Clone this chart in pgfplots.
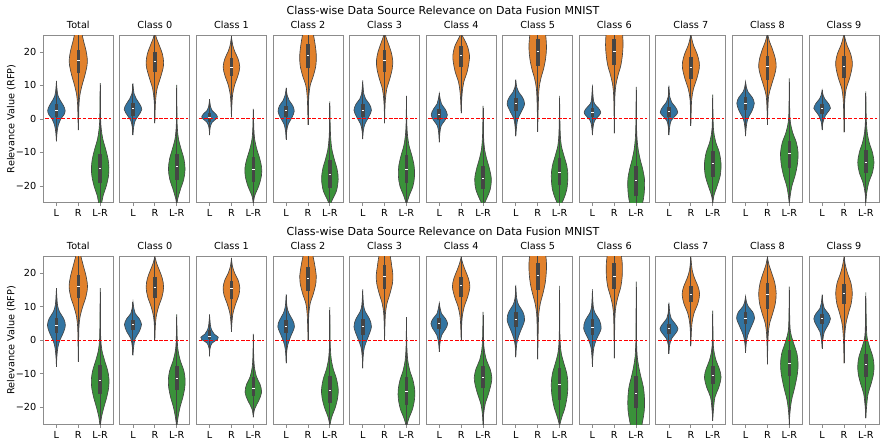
\documentclass[border=0pt]{standalone}
\usepackage{pgfplots}
\pgfplotsset{compat=1.18}
\usepackage{fontspec}
\setmainfont{DejaVu Sans}

\definecolor{cL}{HTML}{3274A1}
\definecolor{cR}{HTML}{E1812C}
\definecolor{cD}{HTML}{3A923A}
\definecolor{vedge}{HTML}{454545}
\definecolor{frame}{HTML}{8C8C8C}

\newcommand\lbl{\fontsize{9.7}{11}\selectfont}

% one violin: #1 position, #2 colour, #3 profile (value/half-width),
% #4 lower whisker, #5 Q1, #6 median, #7 Q3, #8 upper whisker
\newcommand\vio[8]{%
  \gdef\vR{}\gdef\vL{}%
  \foreach \yy/\ww in {#3}{%
    \pgfmathsetmacro\xa{#1+\ww}%
    \pgfmathsetmacro\xb{#1-\ww}%
    \xdef\vR{\vR(\xa,\yy)}%
    \xdef\vL{(\xb,\yy)\vL}%
  }%
  \pgfmathsetmacro\ma{#1-0.055}%
  \pgfmathsetmacro\mb{#1+0.055}%
  \edef\tmp{%
    \noexpand\addplot[fill=#2, draw=vedge, line width=0.65pt, smooth, tension=0.55] coordinates {\vR\vL};
    \noexpand\addplot[vedge, line width=1pt] coordinates {(#1,#4) (#1,#8)};
    \noexpand\addplot[vedge, line width=3.6pt] coordinates {(#1,#5) (#1,#7)};
    \noexpand\addplot[white, line width=1pt] coordinates {(\ma,#6) (\mb,#6)};
  }%
  \tmp
}
\newcommand\zeroline{\addplot[red, line width=1pt, dash pattern=on 3.7pt off 1.6pt] coordinates {(-0.5,0) (2.5,0)};}

\pgfplotsset{
  panel/.style={
    scale only axis, width=70pt, height=167.5pt, anchor=south west,
    xmin=-0.6, xmax=2.6, ymin=-25, ymax=25,
    xtick={0,1,2}, xticklabels={L,R,L-R}, xtick pos=left,
    ytick=\empty,
    tick align=outside, major tick length=3.5pt,
    every tick/.style={frame, line width=0.8pt},
    axis line style={frame, line width=0.9pt},
    ticklabel style={font=\lbl},
    title style={font=\lbl, yshift=-2.5pt},
  },
  first/.style={
    ytick={-20,-10,0,10,20}, yticklabels={−20,−10,0,10,20}, ytick pos=left,
    ylabel={Relevance Value (RFP)},
    every axis y label/.style={at={(axis description cs:-0.455,0.5)}, rotate=90, anchor=center, font=\lbl},
  },
}

\begin{document}
\begin{tikzpicture}
\path[use as bounding box] (0,0) rectangle (880pt,439pt);

\node[font=\fontsize{11}{13}\selectfont] at (443pt,428.5pt) {Class-wise Data Source Relevance on Data Fusion MNIST};
\node[font=\fontsize{11}{13}\selectfont] at (443pt,207.5pt) {Class-wise Data Source Relevance on Data Fusion MNIST};

% ---------------- first run ----------------
\begin{axis}[panel, first, at={(43.3pt,236.3pt)}, title={Total}]
\vio{0}{cL}{-6.7/0,-4/0.03,-2/0.08,0/0.2,1.2/0.34,2.5/0.40,4/0.32,5.5/0.18,7/0.07,9/0.025,11.1/0}{-6.7}{0.5}{2.4}{4.4}{11.1}
\vio{1}{cR}{-3.3/0,0/0.015,4/0.03,7/0.07,10/0.17,13/0.30,16/0.40,18/0.41,20.5/0.35,23/0.25,25/0.18,27/0.1,29/0.02,30/0}{-3.3}{13.6}{17.3}{20.7}{30}
\vio{2}{cD}{-29/0,-26/0.05,-23/0.13,-20/0.28,-17/0.38,-14.5/0.40,-12/0.36,-9/0.25,-6/0.12,-3/0.05,0/0.02,5/0.012,10.1/0}{-29}{-19.1}{-14.9}{-10.5}{10.1}
\zeroline
\end{axis}

\begin{axis}[panel, at={(119.87pt,236.3pt)}, title={Class 0}]
\vio{0}{cL}{-4.8/0,-2.5/0.03,-0.5/0.1,1/0.25,2.8/0.40,4.3/0.32,6/0.15,7.5/0.05,10.3/0}{-4.8}{1.0}{3.0}{4.7}{10.3}
\vio{1}{cR}{-1.3/0,3/0.015,6/0.04,9/0.1,12/0.24,15/0.37,17/0.40,19.5/0.34,22/0.2,24/0.08,25.8/0}{-1.3}{14.1}{17.0}{20.0}{25.8}
\vio{2}{cD}{-26/0,-24/0.04,-21/0.17,-18/0.32,-15/0.38,-12/0.33,-9/0.2,-6/0.08,-3/0.03,0/0.015,9.1/0}{-26}{-18.2}{-14.2}{-10.4}{9.1}
\zeroline
\end{axis}

\begin{axis}[panel, at={(196.44pt,236.3pt)}, title={Class 1}]
\vio{0}{cL}{-4.8/0,-2.5/0.03,-1/0.12,0/0.3,0.6/0.36,1.5/0.28,2.5/0.12,3.5/0.05,5.7/0}{-4.8}{-0.8}{0.5}{1.9}{5.7}
\vio{1}{cR}{0.5/0,4/0.02,7/0.05,10/0.14,13/0.3,15.5/0.38,18/0.3,20/0.16,22/0.06,24.5/0}{0.5}{12.8}{15.3}{18.1}{24.5}
\vio{2}{cD}{-25.5/0,-23/0.06,-20/0.25,-17/0.37,-14.5/0.38,-12/0.3,-9/0.16,-6/0.06,-3/0.025,0/0.012,2.7/0}{-25.5}{-18.7}{-15}{-11.4}{2.7}
\zeroline
\end{axis}

\begin{axis}[panel, at={(273.01pt,236.3pt)}, title={Class 2}]
\vio{0}{cL}{-6.2/0,-3.5/0.03,-1.5/0.1,0.5/0.27,2.3/0.37,4/0.3,5.5/0.14,7/0.05,9.1/0}{-6.2}{0.5}{2.4}{4}{9.1}
\vio{1}{cR}{-1.8/0,3/0.015,7/0.04,10/0.1,13/0.25,16/0.36,19/0.38,22/0.33,25/0.25,27/0.15,29/0}{-1.8}{15.2}{19}{22.5}{29}
\vio{2}{cD}{-26/0,-24/0.12,-21.5/0.3,-18/0.38,-15/0.33,-12/0.2,-9/0.09,-6/0.04,-3/0.02,0/0.01,4.7/0}{-26}{-20.6}{-16.7}{-12.2}{4.7}
\zeroline
\end{axis}

\begin{axis}[panel, at={(349.58pt,236.3pt)}, title={Class 3}]
\vio{0}{cL}{-6/0,-3.5/0.03,-1.5/0.1,0.5/0.27,2.6/0.40,4.5/0.3,6/0.13,7.5/0.05,11.1/0}{-6}{0.7}{2.5}{4.5}{11.1}
\vio{1}{cR}{-1.3/0,3/0.015,6/0.04,9/0.1,12/0.24,15/0.35,17.5/0.37,20/0.3,22.5/0.17,24.5/0.06,26/0}{-1.3}{14.1}{17.3}{20.5}{26}
\vio{2}{cD}{-25.5/0,-23/0.12,-20/0.3,-17/0.37,-14/0.35,-11/0.25,-8/0.12,-5/0.05,-2/0.02,0/0.012,6.2/0}{-25.5}{-19.1}{-15.2}{-10.7}{6.2}
\zeroline
\end{axis}

\begin{axis}[panel, at={(426.15pt,236.3pt)}, title={Class 4}]
\vio{0}{cL}{-7/0,-4/0.03,-2/0.09,-0.5/0.25,1.2/0.37,3/0.26,4.5/0.1,6/0.04,7.6/0}{-7}{-0.3}{1.2}{2.9}{7.6}
\vio{1}{cR}{1.7/0,5/0.02,8/0.05,11/0.12,14/0.27,17/0.36,19/0.38,21.5/0.3,23.5/0.16,25.5/0}{1.7}{15.6}{19}{21.7}{25.5}
\vio{2}{cD}{-26/0,-24/0.15,-21/0.33,-18/0.38,-15/0.3,-12/0.17,-9/0.07,-6/0.03,-3/0.015,3.2/0}{-26}{-20.9}{-17.7}{-14}{3.2}
\zeroline
\end{axis}

\begin{axis}[panel, at={(502.72pt,236.3pt)}, title={Class 5}]
\vio{0}{cL}{-5.2/0,-2.5/0.03,0/0.09,2/0.24,4.5/0.40,6.5/0.3,8/0.13,9.5/0.04,11.6/0}{-5.2}{2.4}{4.5}{6.3}{11.6}
\vio{1}{cR}{-3.8/0,1/0.015,5/0.03,9/0.06,12/0.14,15/0.27,18/0.36,21/0.40,24/0.38,27/0.3,30/0}{-3.8}{15.8}{20.2}{24}{30}
\vio{2}{cD}{-26.5/0,-24/0.18,-21/0.33,-17/0.38,-14/0.33,-11/0.2,-8/0.08,-5/0.035,-2/0.02,0/0.012,6.2/0}{-26.5}{-19.6}{-16}{-11.7}{6.2}
\zeroline
\end{axis}

\begin{axis}[panel, at={(579.29pt,236.3pt)}, title={Class 6}]
\vio{0}{cL}{-4.8/0,-2.5/0.03,-0.5/0.1,1/0.3,2/0.38,3.2/0.28,4.5/0.1,6/0.04,9.8/0}{-4.8}{0.7}{1.9}{3.2}{9.8}
\vio{1}{cR}{-4.3/0,3/0.015,7/0.03,10/0.07,13/0.17,16/0.3,19/0.37,22/0.40,25/0.38,28/0.3,31/0}{-4.3}{16.1}{20.2}{24}{31}
\vio{2}{cD}{-30/0,-27/0.2,-24/0.33,-21/0.38,-18/0.38,-15/0.3,-12/0.18,-9/0.09,-6/0.04,-3/0.02,0/0.012,8.6/0}{-30}{-23.1}{-18.5}{-14}{8.6}
\zeroline
\end{axis}

\begin{axis}[panel, at={(655.86pt,236.3pt)}, title={Class 7}]
\vio{0}{cL}{-4.8/0,-2.5/0.03,-0.5/0.1,1/0.3,2/0.40,3.5/0.3,5/0.12,6.5/0.04,9.6/0}{-4.8}{0.7}{2.1}{3.7}{9.6}
\vio{1}{cR}{-2.1/0,2/0.015,6/0.04,9/0.12,12/0.27,15/0.38,17/0.38,19.5/0.28,22/0.12,24/0.04,25.5/0}{-2.1}{11.8}{15.4}{18.6}{25.5}
\vio{2}{cD}{-25.5/0,-23/0.05,-20/0.2,-17/0.34,-13.5/0.38,-10/0.3,-7/0.14,-4/0.05,-1/0.02,6.4/0}{-25.5}{-17.2}{-13.4}{-9.7}{6.4}
\zeroline
\end{axis}

\begin{axis}[panel, at={(732.43pt,236.3pt)}, title={Class 8}]
\vio{0}{cL}{-5.1/0,-2.5/0.03,0/0.1,2.5/0.3,4.7/0.40,6.5/0.3,8/0.12,9.5/0.04,11.1/0}{-5.1}{2.7}{4.7}{6.6}{11.1}
\vio{1}{cR}{-1.8/0,3/0.02,7/0.06,10/0.18,13/0.32,15.5/0.40,18/0.36,21/0.22,23/0.1,25.5/0}{-1.8}{11.6}{15.6}{18.8}{25.5}
\vio{2}{cD}{-25.5/0,-23/0.04,-20/0.12,-17/0.26,-13.5/0.37,-10/0.40,-7/0.32,-4/0.15,-1/0.05,2/0.02,11.1/0}{-25.5}{-14.7}{-10.4}{-6.7}{11.1}
\zeroline
\end{axis}

\begin{axis}[panel, at={(809pt,236.3pt)}, title={Class 9}]
\vio{0}{cL}{-3.3/0,-1/0.04,1/0.15,2.5/0.32,3.2/0.38,4.5/0.3,6/0.12,7/0.05,8.6/0}{-3.3}{1.4}{3}{4.5}{8.6}
\vio{1}{cR}{-4/0,2/0.015,6/0.04,9/0.1,12/0.25,15/0.36,17/0.38,19.5/0.3,22/0.14,24/0.05,25.5/0}{-4}{12.3}{15.7}{18.8}{25.5}
\vio{2}{cD}{-25/0,-22/0.04,-19/0.13,-16/0.3,-13/0.37,-10/0.3,-7/0.15,-4/0.06,-1/0.025,2/0.012,7.6/0}{-25}{-16}{-12.9}{-9.4}{7.6}
\zeroline
\end{axis}

% ---------------- second run ----------------
\begin{axis}[panel, first, at={(43.3pt,15pt)}, title={Total}]
\vio{0}{cL}{-7.9/0,-5/0.02,-2/0.07,0/0.16,2.5/0.33,4.5/0.41,6.5/0.33,8.5/0.14,10.5/0.05,13/0.02,15.3/0}{-7.9}{2.2}{4.5}{6.7}{15.3}
\vio{1}{cR}{-6.4/0,0/0.015,4/0.03,7/0.08,10/0.2,13/0.35,16/0.42,19/0.36,22/0.24,25/0.12,28/0}{-6.4}{12.7}{16}{19.6}{28}
\vio{2}{cD}{-26/0,-23/0.06,-20/0.17,-17/0.3,-14/0.39,-11.5/0.40,-9/0.34,-6/0.2,-3/0.08,0/0.03,4/0.015,14.4/0}{-26}{-16}{-11.9}{-7.5}{14.4}
\zeroline
\end{axis}

\begin{axis}[panel, at={(119.87pt,15pt)}, title={Class 0}]
\vio{0}{cL}{-4.5/0,-2/0.03,0.5/0.1,2.5/0.28,4.7/0.39,6.5/0.28,8/0.1,9.5/0.04,11.4/0}{-4.5}{3}{4.7}{6.1}{11.4}
\vio{1}{cR}{0/0,4/0.02,7/0.06,10/0.17,13/0.33,15.8/0.40,18.5/0.34,21/0.2,23/0.08,25/0}{0}{12.6}{15.6}{18.8}{25}
\vio{2}{cD}{-26/0,-23/0.06,-20/0.15,-17/0.28,-14/0.37,-11.5/0.38,-9/0.32,-6/0.16,-3/0.06,0/0.025,6.9/0}{-26}{-14.9}{-11.4}{-7.6}{6.9}
\zeroline
\end{axis}

\begin{axis}[panel, at={(196.44pt,15pt)}, title={Class 1}]
\vio{0}{cL}{-4.8/0,-2.5/0.02,-0.8/0.12,0.2/0.36,0.9/0.40,1.8/0.22,3/0.1,4.5/0.04,7.4/0}{-4.8}{0.5}{1.2}{3.2}{7.4}
\vio{1}{cR}{2.5/0,5/0.02,8/0.07,11/0.2,13.5/0.34,15.8/0.38,18/0.3,20/0.15,22/0.05,24.3/0}{2.5}{12.2}{15.3}{17.8}{24.3}
\vio{2}{cD}{-23/0,-20.5/0.06,-18/0.25,-15.5/0.38,-13/0.3,-11/0.15,-8/0.05,-5/0.02,-2/0.01,1.5/0}{-23}{-16.6}{-14.4}{-10.9}{1.5}
\zeroline
\end{axis}

\begin{axis}[panel, at={(273.01pt,15pt)}, title={Class 2}]
\vio{0}{cL}{-6.9/0,-4/0.02,-1.5/0.07,1/0.2,4/0.38,6/0.3,8/0.13,10/0.04,13.4/0}{-6.9}{2.2}{4}{5.9}{13.4}
\vio{1}{cR}{0/0,4/0.015,8/0.04,11/0.1,14/0.25,17/0.36,19/0.38,22/0.32,25/0.23,28/0.1,30/0}{0}{14.7}{18.3}{21.8}{30}
\vio{2}{cD}{-25.5/0,-23/0.08,-20/0.25,-17/0.36,-14.5/0.38,-11.5/0.3,-8.5/0.15,-5.5/0.06,-2.5/0.025,0/0.012,8.9/0}{-25.5}{-18.6}{-14.9}{-10.6}{8.9}
\zeroline
\end{axis}

\begin{axis}[panel, at={(349.58pt,15pt)}, title={Class 3}]
\vio{0}{cL}{-8.4/0,-5/0.02,-2/0.08,0.5/0.22,4/0.40,6.5/0.3,8.5/0.12,10.5/0.04,14.7/0}{-8.4}{1.7}{4}{6.2}{14.7}
\vio{1}{cR}{0/0,4/0.015,8/0.04,11/0.11,14/0.25,17/0.36,19.5/0.38,22/0.33,25/0.26,28/0.12,30/0}{0}{15.3}{19}{22.6}{30}
\vio{2}{cD}{-26/0,-23.5/0.1,-20.5/0.28,-17.5/0.37,-15/0.38,-12/0.3,-9/0.15,-6/0.06,-3/0.025,0/0.012,6.2/0}{-26}{-19.3}{-15.3}{-10.9}{6.2}
\zeroline
\end{axis}

\begin{axis}[panel, at={(426.15pt,15pt)}, title={Class 4}]
\vio{0}{cL}{-3.5/0,-1/0.03,1.5/0.11,3.5/0.3,5/0.38,6.5/0.28,8/0.1,9.5/0.04,11.1/0}{-3.5}{3.5}{4.9}{6.6}{11.1}
\vio{1}{cR}{0/0,4/0.02,7/0.05,10/0.14,13/0.3,16/0.40,18.5/0.33,21/0.18,23/0.07,24.8/0}{0}{12.9}{16.2}{18.8}{24.8}
\vio{2}{cD}{-25.5/0,-22/0.03,-19/0.1,-16/0.25,-13/0.37,-11/0.40,-8.5/0.32,-6/0.16,-3/0.06,0/0.025,7.6/0}{-25.5}{-14.4}{-11.1}{-7.6}{7.6}
\zeroline
\end{axis}

\begin{axis}[panel, at={(502.72pt,15pt)}, title={Class 5}]
\vio{0}{cL}{-5.1/0,-2.5/0.02,0/0.07,2.5/0.2,6/0.40,8.5/0.32,10.5/0.13,12.5/0.04,16.1/0}{-5.1}{4}{6.1}{8.4}{16.1}
\vio{1}{cR}{-5.7/0,0/0.015,5/0.03,8/0.05,11/0.12,14/0.24,17/0.34,20/0.39,23/0.40,26/0.33,30/0}{-5.7}{15.1}{19.3}{23}{30}
\vio{2}{cD}{-25.5/0,-23/0.1,-20/0.25,-16.5/0.35,-13/0.38,-10/0.33,-7/0.2,-4/0.08,-1/0.03,3/0.012,14.9/0}{-25.5}{-17.8}{-13.1}{-8.4}{14.9}
\zeroline
\end{axis}

\begin{axis}[panel, at={(579.29pt,15pt)}, title={Class 6}]
\vio{0}{cL}{-7.9/0,-5/0.02,-2/0.07,0.5/0.2,3.5/0.40,6/0.32,8/0.13,10/0.04,14.7/0}{-7.9}{1.5}{3.8}{6.2}{14.7}
\vio{1}{cR}{-5.4/0,2/0.015,7/0.03,10/0.07,13/0.17,16/0.3,19/0.36,22/0.37,25/0.33,28/0.2,31/0}{-5.4}{15.3}{19}{23}{31}
\vio{2}{cD}{-30/0,-27/0.2,-24/0.3,-21/0.37,-17.5/0.38,-14/0.33,-11/0.22,-8/0.12,-5/0.05,-2/0.025,1/0.012,15.8/0}{-30}{-20.3}{-15.8}{-10.7}{15.8}
\zeroline
\end{axis}

\begin{axis}[panel, at={(655.86pt,15pt)}, title={Class 7}]
\vio{0}{cL}{-4/0,-1.5/0.03,0.5/0.12,2/0.3,3.4/0.41,4.8/0.3,6.5/0.1,8/0.04,10.9/0}{-4}{2}{3.4}{4.8}{10.9}
\vio{1}{cR}{-1.8/0,2/0.02,5/0.05,8/0.14,11/0.32,13.7/0.40,16/0.33,18.5/0.17,21/0.06,24.8/0}{-1.8}{11.4}{13.7}{16.3}{24.8}
\vio{2}{cD}{-24/0,-21/0.03,-17/0.1,-14/0.28,-11/0.38,-8.5/0.3,-6/0.15,-3/0.05,0/0.02,7.9/0}{-24}{-13.2}{-10.4}{-7.6}{7.9}
\zeroline
\end{axis}

\begin{axis}[panel, at={(732.43pt,15pt)}, title={Class 8}]
\vio{0}{cL}{-3.8/0,-1/0.03,1.5/0.1,4/0.26,6.6/0.41,8.5/0.32,10/0.13,11.5/0.04,13.1/0}{-3.8}{4.8}{6.6}{8.4}{13.1}
\vio{1}{cR}{-7.2/0,-2/0.015,2/0.04,5/0.1,8/0.24,11/0.36,14/0.40,17/0.34,20/0.2,22.5/0.07,24.8/0}{-7.2}{9.4}{13.7}{17}{24.8}
\vio{2}{cD}{-25.5/0,-22/0.025,-18/0.1,-14/0.25,-10/0.37,-7/0.40,-4/0.35,-1/0.2,2/0.07,5/0.025,14.9/0}{-25.5}{-10.6}{-6.9}{-3}{14.9}
\zeroline
\end{axis}

\begin{axis}[panel, at={(809pt,15pt)}, title={Class 9}]
\vio{0}{cL}{-2.5/0,0/0.03,2.5/0.1,4.5/0.27,6.4/0.38,8/0.28,9.5/0.1,11/0.04,13.4/0}{-2.5}{5}{6.4}{7.9}{13.4}
\vio{1}{cR}{-6.9/0,-2/0.015,2/0.04,5/0.09,8/0.2,11/0.33,14/0.38,17/0.32,20/0.16,22.5/0.06,24.8/0}{-6.9}{10.9}{14.1}{16.8}{24.8}
\vio{2}{cD}{-23.3/0,-20/0.03,-16/0.1,-13/0.24,-10/0.35,-7.5/0.37,-5/0.32,-2/0.17,0/0.08,3/0.03,13.1/0}{-23.3}{-10.9}{-7.1}{-4}{13.1}
\zeroline
\end{axis}
\end{tikzpicture}
\end{document}
